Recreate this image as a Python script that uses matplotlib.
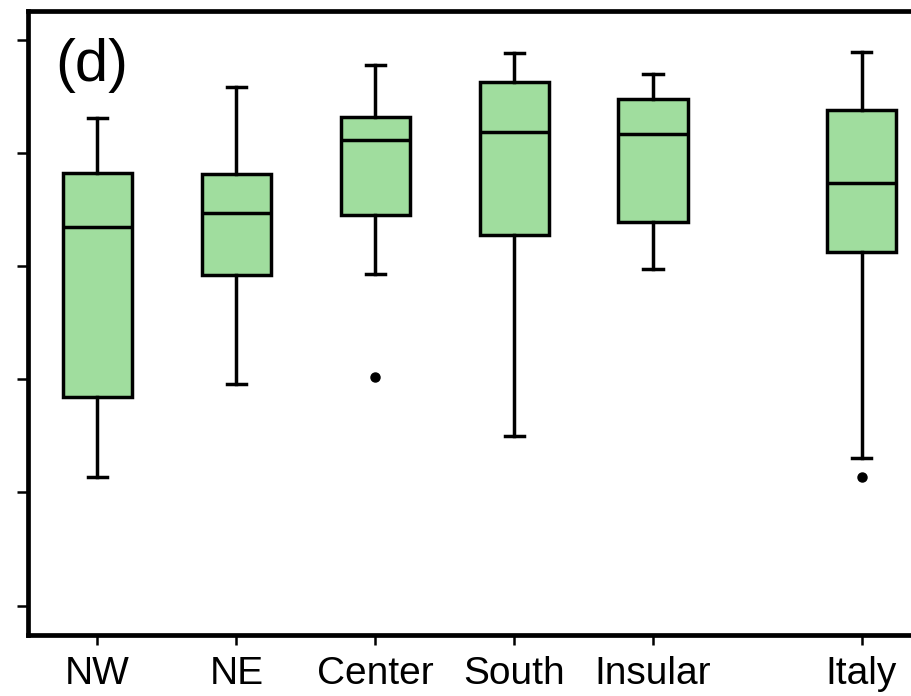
import matplotlib
matplotlib.use("Agg")
import matplotlib.pyplot as plt

plt.rcParams['font.family'] = ['Liberation Sans', 'DejaVu Sans']

# Regions and their box-plot summaries
regions = ["NW", "NE", "Center", "South", "Insular", "Italy"]
positions = [1, 2, 3, 4, 5, 6.5]
whisker_low = [0.227, 0.392, 0.587, 0.299, 0.595, 0.261]
q1 = [0.369, 0.584, 0.691, 0.655, 0.678, 0.625]
median = [0.670, 0.694, 0.823, 0.837, 0.833, 0.747]
q3 = [0.764, 0.763, 0.863, 0.925, 0.895, 0.876]
whisker_high = [0.862, 0.916, 0.955, 0.977, 0.939, 0.978]
outliers = [[], [], [0.404], [], [], [0.227]]

y_ticks = [0.0, 0.2, 0.4, 0.6, 0.8, 1.0]
y_tick_labels = ["0.0", "0.2", "0.4", "0.6", "0.8", "1.0"]

W, H, DPI = 911, 696, 100
fig = plt.figure(figsize=(W / DPI, H / DPI), dpi=DPI)

left_px, right_px, top_px, bottom_px = 28, 931, 10.5, 635
ax = fig.add_axes([left_px / W, 1 - bottom_px / H,
                   (right_px - left_px) / W, (bottom_px - top_px) / H])

stats = []
for i in range(len(regions)):
    stats.append(dict(label=regions[i], whislo=whisker_low[i], q1=q1[i],
                      med=median[i], q3=q3[i], whishi=whisker_high[i],
                      fliers=outliers[i]))

lw = 2.5
ax.bxp(stats, positions=positions, widths=0.5, patch_artist=True,
       boxprops=dict(facecolor='#a0dd9e', edgecolor='black', linewidth=lw),
       medianprops=dict(color='black', linewidth=lw),
       whiskerprops=dict(color='black', linewidth=lw),
       capprops=dict(color='black', linewidth=lw),
       capwidths=0.14,
       flierprops=dict(marker='o', markerfacecolor='black',
                       markeredgecolor='black', markersize=6.5))

ax.set_xlim(0.5, 7.0)
ax.set_ylim(-0.052, 1.052)
ax.set_xticks(positions)
ax.set_xticklabels(regions, fontsize=28)
ax.set_yticks(y_ticks)
ax.set_yticklabels(y_tick_labels, fontsize=27)

for s in ax.spines.values():
    s.set_linewidth(3.4)

ax.tick_params(axis='x', length=7, width=1.8, pad=8)
ax.tick_params(axis='y', length=8, width=1.8, pad=13)

ax.text(0.03, 0.912, "(d)", transform=ax.transAxes, fontsize=43,
        ha='left', va='center')

fig.savefig("out.png", dpi=DPI)
